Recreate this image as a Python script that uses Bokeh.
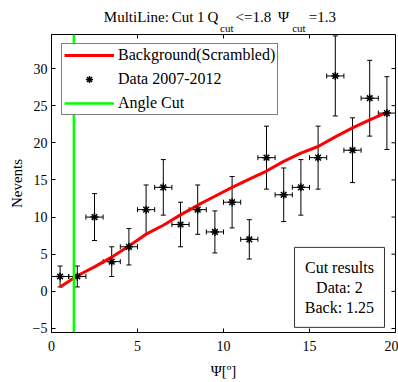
import math
from bokeh.plotting import figure
from bokeh.layouts import column
from bokeh.models import (ColumnDataSource, Whisker, TeeHead, FixedTicker,
                          Legend, LegendItem, Label, BoxAnnotation, Range1d)
from bokeh.core.properties import value
from bokeh.embed import file_html
from bokeh.resources import INLINE

# ---- data ----
psi = [0.5, 1.5, 2.5, 3.5, 4.5, 5.5, 6.5, 7.5, 8.5, 9.5,
       10.5, 11.5, 12.5, 13.5, 14.5, 15.5, 16.5, 17.5, 18.5, 19.5]
counts = [2, 2, 10, 4, 6, 11, 14, 9, 11, 8,
          12, 7, 18, 13, 14, 18, 29, 19, 26, 24]
count_err = [1.41, 1.41, 3.16, 2.0, 2.45, 3.32, 3.74, 3.0, 3.32, 2.83,
             3.46, 2.65, 4.24, 3.61, 3.74, 4.24, 5.39, 4.36, 5.10, 4.90]
bin_half = [0.5] * 20
background = [0.6, 2.1, 3.3, 4.6, 6.1, 7.7, 8.9, 10.3, 11.6, 12.8,
              14.0, 15.1, 16.2, 17.5, 18.6, 19.5, 20.8, 22.0, 23.1, 24.1]
psi_cut = 1.3
x_ticks = [0, 5, 10, 15, 20]
y_ticks = [-5, 0, 5, 10, 15, 20, 25, 30]
x_lo, x_hi = 0, 20
y_lo, y_hi = -5.54, 34.58

title_words = ["MultiLine:", "Cut", "1", "Q", "<=1.8", "Ψ", "=1.3"]
title_subs = ["cut", "cut"]
cut_text = ["Cut results", "Data: 2", "Back: 1.25"]

FONT = "Liberation Serif"
W, H_TITLE, H_MAIN = 398, 34, 348

# ---- title strip (separate figure, pixel coordinates) ----
tf = figure(width=W, height=H_TITLE, output_backend="svg", toolbar_location=None,
            x_range=Range1d(0, W), y_range=Range1d(H_TITLE, 0),
            x_axis_location=None, y_axis_location=None,
            min_border=0, outline_line_color=None, frame_align=False,
            background_fill_color="white", border_fill_color="white")
tf.grid.visible = False
tf.text(x=[103.3, 171.3, 196.5, 207.0, 235.0, 277.5, 308.3], y=[16.7] * 7,
        text=title_words,
        text_font=value(FONT), text_font_size="15px", text_color="black",
        text_baseline="alphabetic", text_align="left")
tf.text(x=[219.5, 291.7], y=[27.0] * 2, text=title_subs,
        text_font=value(FONT), text_font_size="11px", text_color="black",
        text_baseline="alphabetic", text_align="left")

# ---- main plot ----
p = figure(width=W, height=H_MAIN, output_backend="svg", toolbar_location=None,
           x_range=Range1d(x_lo, x_hi), y_range=Range1d(y_lo, y_hi),
           min_border_left=51, min_border_right=3, min_border_top=0, min_border_bottom=50,
           frame_align=False,
           background_fill_color="white", border_fill_color="white")
p.outline_line_color = "black"
p.outline_line_width = 1
p.grid.visible = False

for ax, ticks in ((p.xaxis[0], x_ticks), (p.yaxis[0], y_ticks)):
    ax.ticker = FixedTicker(ticks=ticks)
    ax.major_tick_in = 4
    ax.major_tick_out = 0
    ax.minor_tick_line_color = None
    ax.major_label_text_font = FONT
    ax.major_label_text_font_size = "14px"
    ax.major_label_text_color = "black"
    ax.axis_label_text_font = FONT
    ax.axis_label_text_font_size = "15px"
    ax.axis_label_text_font_style = "normal"
    ax.axis_label_text_color = "black"
    ax.axis_line_color = "black"
    ax.major_tick_line_color = "black"

p.xaxis[0].axis_label = "Ψ[º]"
p.yaxis[0].axis_label = "Nevents"
p.xaxis[0].major_label_standoff = 8
p.yaxis[0].major_label_standoff = 4
p.xaxis[0].axis_label_standoff = 9
p.yaxis[0].axis_label_standoff = 5

# inward ticks on the right and top edges (half of each dash is clipped by the frame)
p.scatter(x=[x_hi] * len(y_ticks), y=y_ticks, marker="dash", size=8,
          line_color="black", line_width=1)
p.scatter(x=x_ticks, y=[y_hi] * len(x_ticks), marker="dash", size=8, angle=math.pi / 2,
          line_color="black", line_width=1)

# ---- data points with error bars ----
src = ColumnDataSource(dict(
    x=psi, y=counts,
    ylo=[c - e for c, e in zip(counts, count_err)],
    yhi=[c + e for c, e in zip(counts, count_err)],
    xlo=[x - h for x, h in zip(psi, bin_half)],
    xhi=[x + h for x, h in zip(psi, bin_half)],
))

def tee():
    return TeeHead(size=5, line_color="black", line_width=1)

p.add_layout(Whisker(source=src, base="x", lower="ylo", upper="yhi", dimension="height",
                     line_color="black", line_width=1, upper_head=tee(), lower_head=tee()))
p.add_layout(Whisker(source=src, base="y", lower="xlo", upper="xhi", dimension="width",
                     line_color="black", line_width=1, upper_head=tee(), lower_head=tee()))

bg = p.line(psi, background, line_color="#ff0000", line_width=3)
pts = p.scatter("x", "y", source=src, marker="asterisk", size=8,
                line_color="black", line_width=1.5)
cut = p.line([psi_cut, psi_cut], [y_lo, y_hi], line_color="#00ff00", line_width=2.5)

legend = Legend(items=[LegendItem(label="Background(Scrambled)", renderers=[bg]),
                       LegendItem(label="Data 2007-2012", renderers=[pts]),
                       LegendItem(label="Angle Cut", renderers=[cut])],
                location=(10, 217), orientation="vertical",
                label_text_font=FONT, label_text_font_size="16px", label_text_color="black",
                glyph_width=50, glyph_height=18, label_height=18, label_standoff=4,
                spacing=6, padding=2, margin=0,
                border_line_color="black", border_line_width=1,
                background_fill_color="white", background_fill_alpha=1.0)
p.add_layout(legend)

# ---- cut results box ----
p.add_layout(BoxAnnotation(left=14.13, right=19.36, bottom=-4.85, top=5.92,
                           fill_color="white", fill_alpha=1.0,
                           line_color="#333333", line_width=1, line_alpha=1.0))
for txt, yy in zip(cut_text, (3.25, 0.52, -2.12)):
    p.add_layout(Label(x=16.74, y=yy, text=txt, text_align="center",
                       text_baseline="alphabetic", text_font=FONT,
                       text_font_size="16px", text_color="black"))

layout = column(tf, p, spacing=0)
open("out.html", "w").write(file_html(layout, INLINE))
